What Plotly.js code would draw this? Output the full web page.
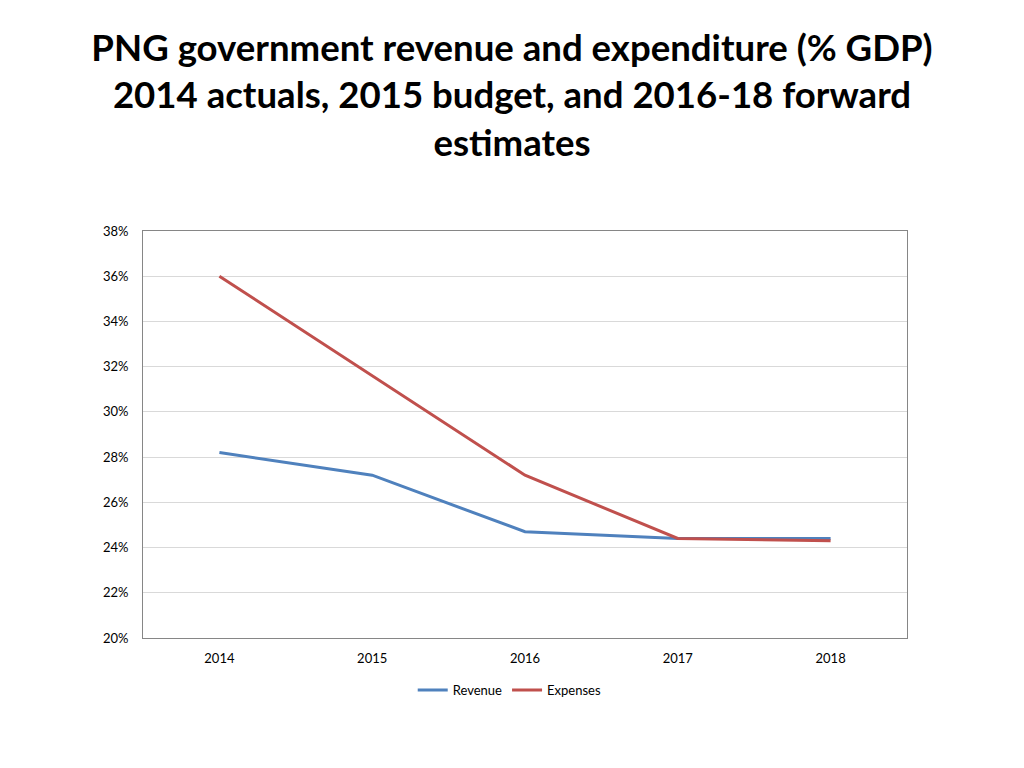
<!DOCTYPE html>
<html>
<head>
<meta charset="utf-8">
<script src="https://cdn.plot.ly/plotly-3.0.1.min.js"></script>
<style>
  html, body { margin: 0; padding: 0; background: #fff; }
  #chart { width: 1024px; height: 768px; }
</style>
</head>
<body>
<div id="chart"></div>
<script>
const years = ['2014', '2015', '2016', '2017', '2018'];
const revenue = [0.282, 0.272, 0.247, 0.244, 0.244];
const expenses = [0.360, 0.316, 0.272, 0.244, 0.243];
const yTicks = [0.20, 0.22, 0.24, 0.26, 0.28, 0.30, 0.32, 0.34, 0.36, 0.38];

const traces = [
  {
    x: years, y: revenue, name: 'Revenue', type: 'scatter', mode: 'lines',
    line: { color: '#4F81BD', width: 3 }
  },
  {
    x: years, y: expenses, name: 'Expenses', type: 'scatter', mode: 'lines',
    line: { color: '#C0504D', width: 3 }
  }
];

const layout = {
  width: 1024,
  height: 768,
  paper_bgcolor: '#fff',
  plot_bgcolor: '#fff',
  margin: { t: 231, b: 130, l: 143, r: 117 },
  font: { family: 'Lato, "Open Sans", sans-serif', color: '#000' },
  title: {
    text: '<b>PNG government revenue and expenditure (% GDP)<br>2014 actuals, 2015 budget, and 2016-18 forward<br>estimates</b>',
    font: { size: 36.6, color: '#000', family: 'Lato, "Open Sans", sans-serif' },
    x: 0.5, xanchor: 'center',
    y: 0.921, yanchor: 'top', yref: 'container'
  },
  xaxis: {
    type: 'category',
    range: [-0.5, 4.5],
    showgrid: false,
    showline: true, linecolor: '#868686', linewidth: 1,
    mirror: true,
    ticks: 'outside', ticklen: 8, tickcolor: 'rgba(0,0,0,0)',
    tickfont: { size: 13 },
    zeroline: false
  },
  yaxis: {
    range: [0.20, 0.38],
    tickvals: yTicks,
    tickformat: '.0%',
    showgrid: true, gridcolor: '#D9D9D9', gridwidth: 1,
    showline: true, linecolor: '#868686', linewidth: 1,
    mirror: true,
    ticks: 'outside', ticklen: 11, tickcolor: 'rgba(0,0,0,0)',
    tickfont: { size: 13 },
    zeroline: false
  },
  showlegend: true,
  legend: {
    orientation: 'h',
    x: 0.48, xanchor: 'center',
    y: -0.128, yanchor: 'middle',
    font: { size: 13 },
    itemwidth: 30
  }
};

Plotly.newPlot('chart', traces, layout, { displayModeBar: false, staticPlot: true });
</script>
</body>
</html>
